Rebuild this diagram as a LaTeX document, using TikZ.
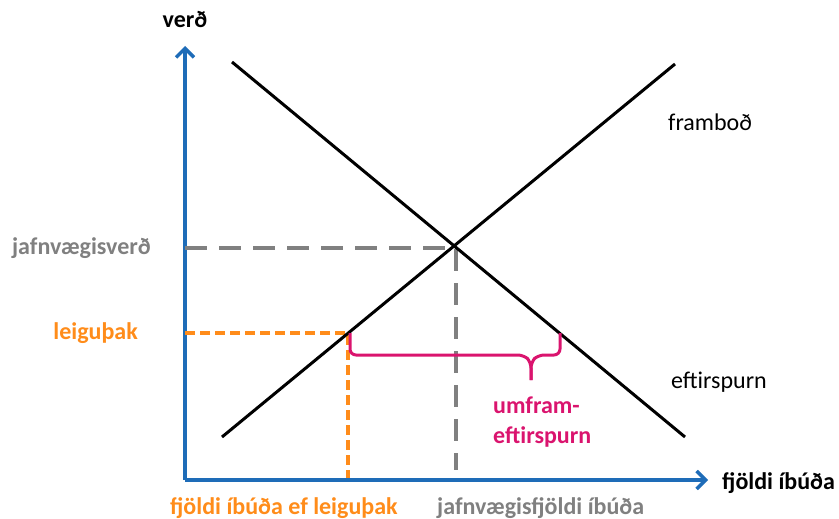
\documentclass[tikz,border=0pt]{standalone}
\usepackage{fontspec}
\setmainfont{Carlito}
\usetikzlibrary{arrows.meta}
\definecolor{axisblue}{RGB}{30,108,184}
\definecolor{ora}{RGB}{255,140,26}
\definecolor{gry}{RGB}{128,128,128}
\definecolor{mag}{RGB}{218,20,110}
\begin{document}
\begin{tikzpicture}[x=1pt,y=-1pt,
  axisline/.style={draw=axisblue,line width=3.5pt,-{Straight Barb[length=9pt,width=18pt,line width=3.5pt]}},
  curve/.style={draw=black,line width=3pt},
  graydash/.style={draw=gry,line width=3.5pt,dash pattern=on 22pt off 12pt},
  oradash/.style={draw=ora,line width=3.5pt,dash pattern=on 10pt off 5pt},
  lbl/.style={font=\fontsize{24}{28}\selectfont,inner sep=0pt},
  blbl/.style={lbl,font=\fontsize{24}{28}\selectfont\bfseries}]
\useasboundingbox (0,0) rectangle (839,519);
% key points
\coordinate (O) at (185,480);
\coordinate (Ytip) at (185,46);
\coordinate (Xtip) at (708,480);
\coordinate (S1) at (222,437);
\coordinate (S2) at (675,64);
\coordinate (D1) at (232,62);
\coordinate (D2) at (685,437);
\coordinate (E) at (456,248);
\coordinate (Ey) at (185,248);
\coordinate (Ex) at (456,470);
\coordinate (R) at (348,333);
\coordinate (Ry) at (185,333);
\coordinate (Rx) at (348,478);
% axes
\draw[axisline] (O) -- (Ytip);
\draw[axisline] (O) -- (Xtip);
% dashed guides
\draw[graydash] (Ey) -- (E) -- (Ex);
\draw[oradash] (Ry) -- (R) -- (Rx);
% supply and demand
\draw[curve] (S1) -- (S2);
\draw[curve] (D1) -- (D2);
% brace
\coordinate (B1) at (350,333);
\coordinate (B2) at (560,333);
\coordinate (Btip) at (531,380);
\draw[mag,line width=3pt,rounded corners=6pt] (B1) -- (350,355) -- (524,355) -- (531,362) -- (Btip);
\draw[mag,line width=3pt,rounded corners=6pt] (Btip) -- (531,362) -- (538,355) -- (560,355) -- (B2);
% labels
\node[blbl] (verd) at (185,19) {verð};
\node[lbl,anchor=west] (framb) at (668,122) {framboð};
\node[lbl,anchor=west] (eftir) at (671,382) {eftirspurn};
\node[blbl,anchor=west] (fjoldi) at (722,483) {fjöldi íbúða};
\node[blbl,gry,anchor=east] (jverd) at (151,248) {jafnvægisverð};
\node[blbl,ora,anchor=east] (leig) at (138,333) {leiguþak};
\node[blbl,ora,anchor=west] (fjl) at (170,508) {fjöldi íbúða ef leiguþak};
\node[blbl,gry,anchor=west] (jfj) at (437,508) {jafnvægisfjöldi íbúða};
\node[blbl,mag,anchor=north west,align=left,font=\fontsize{24}{30}\selectfont\bfseries] (umf) at (493,397) {umfram-\\eftirspurn};
\end{tikzpicture}
\end{document}
